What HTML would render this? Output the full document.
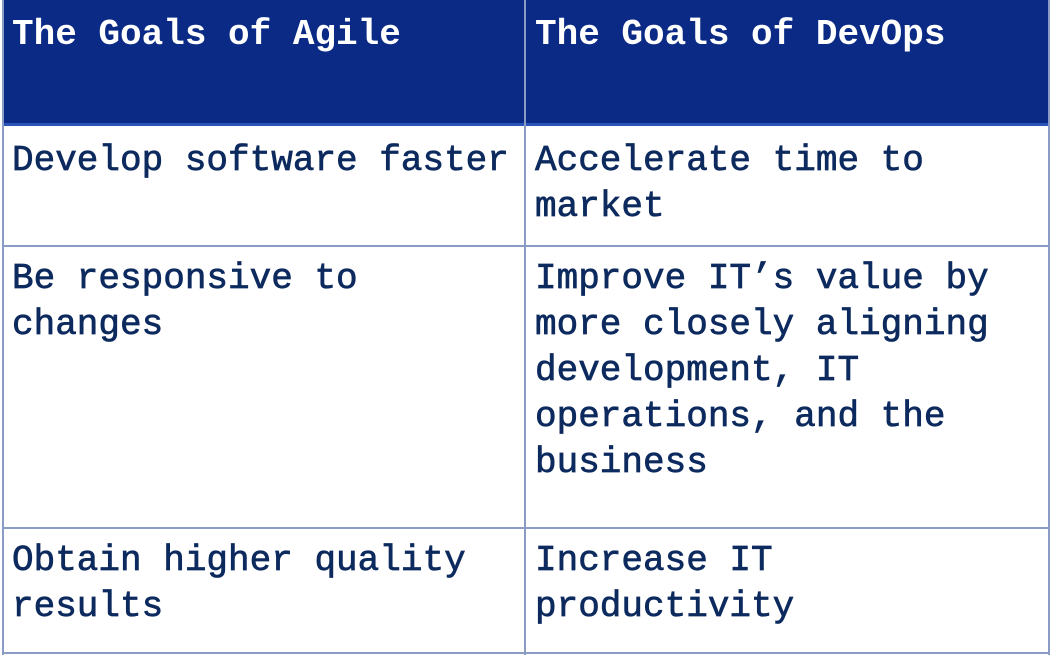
<!DOCTYPE html>
<html><head><style>
body{margin:0;width:1051px;height:657px;background:#fff;position:relative;overflow:hidden;font-family:"Liberation Mono",monospace;}
.hd{position:absolute;left:3px;top:0;width:1046px;height:123px;background:#0a2a86;}
.hline{position:absolute;left:3px;width:1046px;height:2px;background:#8a9cc4;}
.vline{position:absolute;top:0;width:2px;height:655px;background:#8a9cc4;}
.t{position:absolute;font-size:36px;line-height:46px;color:#0d2a5e;white-space:pre;-webkit-text-stroke:0.7px #0d2a5e;}
.h{color:#fff;font-weight:bold;-webkit-text-stroke:0;}
</style></head><body>
<div class="hd"></div>
<div class="hline" style="top:123px;height:3px;background:#2a54b8"></div>
<div class="hline" style="top:245px"></div>
<div class="hline" style="top:527px"></div>
<div class="hline" style="top:652px"></div>
<div class="vline" style="left:2px"></div>
<div class="vline" style="left:524px"></div>
<div class="vline" style="left:1048px"></div>
<div class="t h" style="left:12px;top:12px">The Goals of Agile</div>
<div class="t h" style="left:535px;top:12px">The Goals of DevOps</div>
<div class="t" style="left:12px;top:138px">Develop software faster</div>
<div class="t" style="left:535px;top:138px">Accelerate time to
market</div>
<div class="t" style="left:12px;top:256px">Be responsive to
changes</div>
<div class="t" style="left:535px;top:256px">Improve IT’s value by
more closely aligning
development, IT
operations, and the
business</div>
<div class="t" style="left:12px;top:538px">Obtain higher quality
results</div>
<div class="t" style="left:535px;top:538px">Increase IT
productivity</div>
</body></html>
